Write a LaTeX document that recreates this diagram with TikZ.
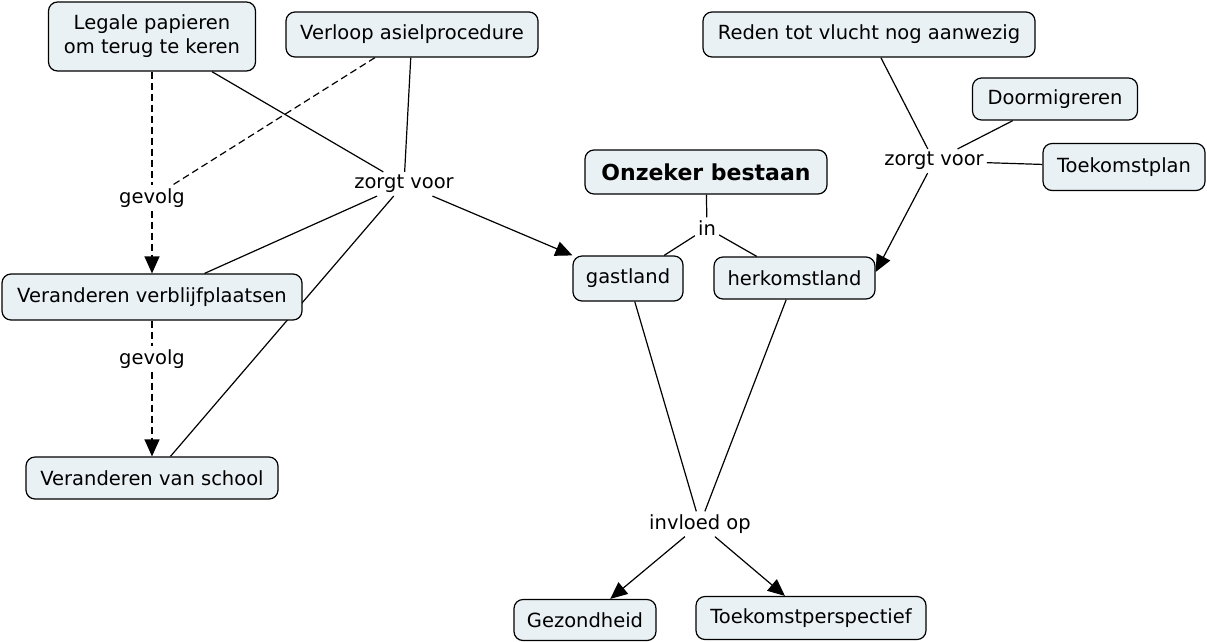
\documentclass[tikz,border=0pt]{standalone}
\usepackage{fontspec}
\setmainfont{DejaVu Sans}
\usetikzlibrary{arrows.meta,backgrounds}
\definecolor{boxfill}{HTML}{E9F1F4}
\tikzset{
  box/.style={draw, rounded corners=9pt, fill=boxfill, line width=1.2pt, inner xsep=6pt, inner ysep=3pt, minimum height=44pt, font=\fontsize{19.5}{24}\selectfont, align=center},
  lbl/.style={inner sep=3pt, font=\fontsize{19.5}{24}\selectfont},
  con/.style={line width=1.2pt},
  arr/.style={line width=1.2pt, -{Triangle[length=17pt,width=15pt]}},
  dsh/.style={line width=1.2pt, dash pattern=on 7pt off 4pt}
}
\begin{document}
\begin{tikzpicture}[x=1pt,y=-1pt]
\useasboundingbox (0,0) rectangle (1207,641);
% nodes
\node[box, minimum width=207pt, minimum height=69pt] (leg) at (152,36.5) {Legale papieren\\om terug te keren};
\node[box, minimum width=252pt, minimum height=45pt] (verl) at (412,34.5) {Verloop asielprocedure};
\node[box, minimum width=332pt, minimum height=45pt] (reden) at (869,34.5) {Reden tot vlucht nog aanwezig};
\node[box, minimum width=165pt, minimum height=42pt] (door) at (1055,99) {Doormigreren};
\node[box, minimum width=162pt, minimum height=47pt] (plan) at (1124,167) {Toekomstplan};
\node[lbl] (zr) at (934,161) {zorgt voor};
\node[box, minimum width=242pt, font=\fontsize{22}{26}\selectfont\bfseries] (onz) at (706,172) {Onzeker bestaan};
\node[lbl] (in) at (707,228) {in};
\node[box, minimum width=110pt, minimum height=45pt] (gast) at (628,278.5) {gastland};
\node[box, minimum width=161pt, minimum height=42pt] (herk) at (794.5,278) {herkomstland};
\node[lbl] (zl) at (404,184) {zorgt voor};
\node[lbl] (gev1) at (152,198) {gevolg};
\node[box, minimum width=300pt, minimum height=46pt] (vv) at (152,297) {Veranderen verblijfplaatsen};
\node[lbl] (gev2) at (152,359) {gevolg};
\node[box, minimum width=252pt, minimum height=42pt] (vs) at (152,478) {Veranderen van school};
\node[lbl] (inv) at (700,524) {invloed op};
\node[box, minimum width=142pt, minimum height=41pt] (gez) at (585,620) {Gezondheid};
\node[box, minimum width=230pt, minimum height=43pt] (tp) at (811,618) {Toekomstperspectief};
% connectors
\begin{pgfonlayer}{background}
\draw[dsh] (leg) -- (gev1);
\draw[dsh, arr] (gev1) -- (vv.north -| gev1);
\draw[dsh] ([xshift=-37pt]verl.south) -- (gev1);
\draw[dsh] (vv.south -| gev2) -- (gev2);
\draw[dsh, arr] (gev2) -- (vs.north -| gev2);
\draw[con] (leg) -- (zl);
\draw[con] (verl) -- (zl);
\draw[arr] (zl) -- (gast.north west);
\draw[con] (zl) -- (vv);
\draw[con] (zl) -- (vs);
\draw[con] (onz) -- (in);
\draw[con] (in) -- (gast);
\draw[con] (in) -- (herk);
\draw[con] (reden) -- (zr);
\draw[con] (door) -- (zr);
\draw[con] (zr) -- (plan);
\draw[arr] (zr) -- ([yshift=6pt]herk.east);
\draw[con] (gast) -- (inv);
\draw[con] (herk) -- (inv);
\draw[arr] (inv) -- (gez);
\draw[arr] (inv) -- (tp);
\end{pgfonlayer}
\end{tikzpicture}
\end{document}
